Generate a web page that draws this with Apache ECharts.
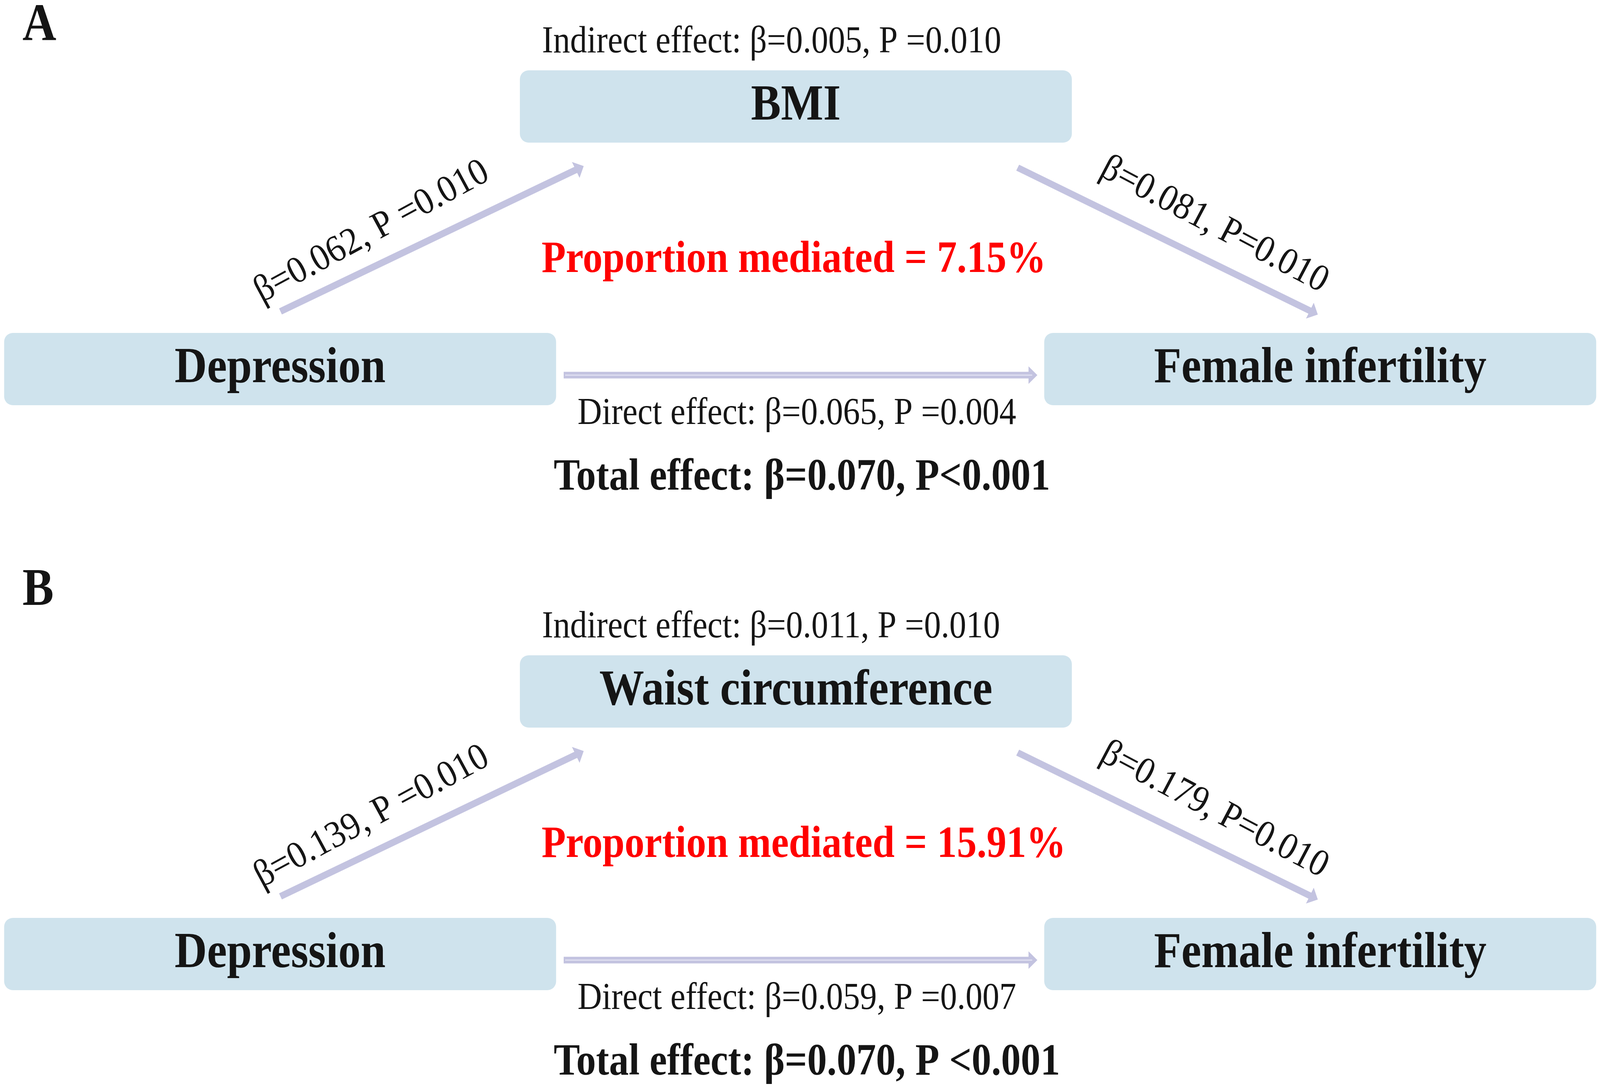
<!DOCTYPE html>
<html>
<head>
<meta charset="utf-8">
<script src="https://cdn.jsdelivr.net/npm/echarts@6/dist/echarts.min.js"></script>
<style>
  html, body { margin: 0; padding: 0; background: #fff; overflow: hidden; }
  #chart { width: 100vw; height: 100vh; }
</style>
</head>
<body>
<div id="chart"></div>
<script>
// values
var panelTags = ['A', 'B'];
var exposure = 'Depression';
var outcome = 'Female infertility';
var mediators = ['BMI', 'Waist circumference'];
var pathA = ['β=0.062, P =0.010', 'β=0.139, P =0.010'];
var pathB = ['β=0.081, P=0.010', 'β=0.179, P=0.010'];
var indirectEffect = ['β=0.005, P =0.010', 'β=0.011, P =0.010'];
var directEffect = ['β=0.065, P =0.004', 'β=0.059, P =0.007'];
var totalEffect = ['β=0.070, P<0.001', 'β=0.070, P <0.001'];
var proportionMediated = ['7.15%', '15.91%'];

// layout in figure units (4638 x 2792), panel B is shifted down by panelStep
var W = 4638, H = 2792;
var panelStep = 1497;
var tagY = [68, 1513];
var boxes = [
  {x: 12, y: 852, w: 1600, h: 185},    // exposure
  {x: 1507, y: 180, w: 1600, h: 185},  // mediator
  {x: 3027, y: 852, w: 1600, h: 185}   // outcome
];
var arrows = [
  {from: [813, 797], to: [1692, 425], stripe: false},
  {from: [2950, 429], to: [3820, 805], stripe: false},
  {from: [1634, 960], to: [3007, 960], stripe: true}
];
var edgeLabelPos = [
  {c: [1078, 594], rot: 25.5},
  {c: [3520, 576], rot: -25}
];

var serif = '"Liberation Serif", "Times New Roman", serif';
var boxColor = '#cfe3ed';
var arrowColor = '#c3c3e0';
var ink = '#151515';

var panels = panelTags.map(function (t, i) { return [i]; });

var chart = echarts.init(document.getElementById('chart'));
// figure unit -> screen pixel, the window may not keep the figure's aspect
var kx = chart.getWidth() / W;
var ky = chart.getHeight() / H;
var km = (kx + ky) / 2;

function txt(p, text, size, bold, color, align, rot) {
  var t = (rot || 0) * Math.PI / 180;
  var c = Math.cos(t), s = Math.sin(t);
  var along = Math.sqrt(kx * kx * c * c + ky * ky * s * s);
  var across = Math.sqrt(kx * kx * s * s + ky * ky * c * c);
  return {
    type: 'text',
    x: p[0], y: p[1],
    rotation: Math.atan2(ky * s, kx * c),
    scaleX: along / across,
    style: {
      text: text,
      fontFamily: serif,
      fontSize: size * across,
      fontWeight: bold ? 'bold' : 'normal',
      fill: color,
      align: align,
      verticalAlign: 'middle'
    }
  };
}

function arrowShape(api, a, dy) {
  var p0 = api.coord([a.from[0], a.from[1] + dy]);
  var p1 = api.coord([a.to[0], a.to[1] + dy]);
  var dx = p1[0] - p0[0], dyy = p1[1] - p0[1];
  var len = Math.sqrt(dx * dx + dyy * dyy);
  var ux = dx / len, uy = dyy / len, nx = -uy, ny = ux;
  var sw = 9 * km, hw = 24 * km, hl = 24 * km;
  var bx = p1[0] - ux * hl, by = p1[1] - uy * hl;
  var pts = [
    [p0[0] + nx * sw, p0[1] + ny * sw],
    [bx + nx * sw, by + ny * sw],
    [bx + nx * hw, by + ny * hw],
    [p1[0], p1[1]],
    [bx - nx * hw, by - ny * hw],
    [bx - nx * sw, by - ny * sw],
    [p0[0] - nx * sw, p0[1] - ny * sw]
  ];
  var kids = [{type: 'polygon', shape: {points: pts}, style: {fill: arrowColor}}];
  if (a.stripe) {
    kids.push({
      type: 'line',
      shape: {x1: p0[0] + ux * 4 * km, y1: p0[1] + uy * 4 * km, x2: bx + ux * 10 * km, y2: by + uy * 10 * km},
      style: {stroke: '#e2e2f2', lineWidth: 3 * km}
    });
  }
  return kids;
}

chart.setOption({
  backgroundColor: '#fff',
  animation: false,
  grid: {left: 0, right: 0, top: 0, bottom: 0},
  xAxis: {type: 'value', min: 0, max: W, show: false},
  yAxis: {type: 'value', min: 0, max: H, inverse: true, show: false},
  series: [
    {
      name: 'nodes',
      type: 'custom',
      data: panels,
      renderItem: function (params, api) {
        var i = api.value(0);
        var dy = i * panelStep;
        var names = [exposure, mediators[i], outcome];
        var kids = [];
        boxes.forEach(function (b, j) {
          var tl = api.coord([b.x, b.y + dy]);
          var sz = api.size([b.w, b.h]);
          kids.push({
            type: 'rect',
            shape: {x: tl[0], y: tl[1], width: sz[0], height: sz[1], r: 24 * km},
            style: {fill: boxColor}
          });
          kids.push(txt([tl[0] + sz[0] / 2, tl[1] + sz[1] / 2], names[j], 130, true, ink, 'center'));
        });
        return {type: 'group', children: kids};
      }
    },
    {
      name: 'paths',
      type: 'custom',
      data: panels,
      renderItem: function (params, api) {
        var i = api.value(0);
        var dy = i * panelStep;
        var kids = [];
        arrows.forEach(function (a) { kids = kids.concat(arrowShape(api, a, dy)); });
        var labs = [pathA[i], pathB[i]];
        edgeLabelPos.forEach(function (e, j) {
          kids.push(txt(api.coord([e.c[0], e.c[1] + dy]), labs[j], 99, false, ink, 'center', e.rot));
        });
        return {type: 'group', children: kids};
      }
    },
    {
      name: 'effects',
      type: 'custom',
      data: panels,
      renderItem: function (params, api) {
        var i = api.value(0);
        var dy = i * panelStep;
        var kids = [
          txt(api.coord([65, tagY[i]]), panelTags[i], 136, true, ink, 'left'),
          txt(api.coord([1571, 108 + dy]), 'Indirect effect: ' + indirectEffect[i], 98, false, ink, 'left'),
          txt(api.coord([1570, 666 + dy]), 'Proportion mediated = ' + proportionMediated[i], 115, true, '#ff0000', 'left'),
          txt(api.coord([1674, 1059 + dy]), 'Direct effect: ' + directEffect[i], 98, false, ink, 'left'),
          txt(api.coord([1605, 1224 + dy]), 'Total effect: ' + totalEffect[i], 114, true, ink, 'left')
        ];
        return {type: 'group', children: kids};
      }
    }
  ]
});
</script>
</body>
</html>
